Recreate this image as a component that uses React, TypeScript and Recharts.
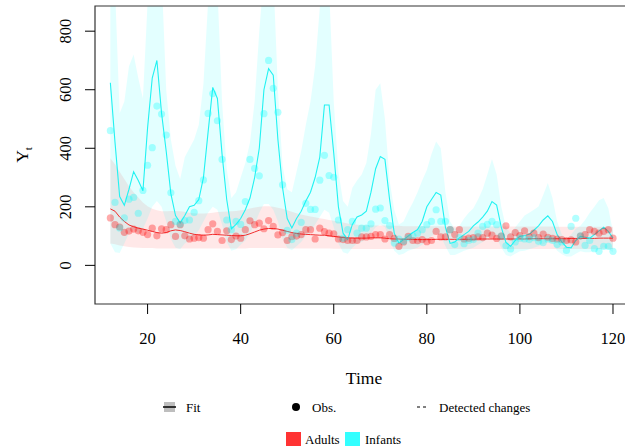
import { ComposedChart, Area, Line, Scatter, XAxis, YAxis, ReferenceArea } from 'recharts';

// months 12..120
const time = Array.from({ length: 109 }, (_, i) => 12 + i);

const infantFit = [
  624, 420, 235, 205, 260, 320, 290, 255, 470, 640, 700, 520,
  390, 245, 170, 145, 170, 200, 205, 225, 300, 455, 608, 570,
  380, 225, 125, 140, 160, 190, 230, 300, 400, 600, 672, 650,
  430, 265, 160, 128, 160, 185, 220, 250, 300, 370, 548, 548,
  383, 200, 110, 88, 140, 165, 172, 185, 250, 330, 372, 362,
  225, 110, 76, 88, 100, 112, 122, 150, 200, 225, 249, 240,
  130, 75, 80, 94, 105, 116, 135, 148, 165, 185, 218, 206,
  130, 78, 65, 85, 99, 102, 106, 120, 135, 155, 169, 150,
  105, 80, 62, 60, 85, 99, 96, 93, 105, 118, 130, 116,
  93,
];
const infantHi = [
  1000, 950, 520, 560, 680, 720, 640, 570, 900, 1100, 1150, 1000,
  600, 430, 340, 295, 370, 400, 430, 480, 620, 900, 1050, 950,
  560, 330, 230, 250, 300, 350, 420, 560, 800, 1000, 1100, 1000,
  600, 340, 260, 250, 320, 390, 480, 560, 680, 880, 1000, 950,
  560, 320, 220, 200, 265, 290, 310, 350, 450, 600, 622, 500,
  290, 190, 140, 150, 185, 215, 250, 290, 326, 380, 423, 400,
  250, 150, 125, 135, 160, 180, 195, 225, 260, 310, 363, 310,
  200, 130, 110, 130, 150, 170, 180, 190, 201, 240, 281, 230,
  150, 105, 90, 105, 125, 135, 155, 180, 200, 222, 230, 195,
  115,
];
const infantLo = [
  75, 45, 42, 75, 110, 125, 110, 125, 160, 200, 220, 200,
  150, 90, 60, 55, 75, 85, 100, 120, 150, 180, 200, 190,
  140, 80, 50, 55, 70, 85, 110, 140, 180, 210, 210, 190,
  150, 90, 60, 52, 65, 80, 100, 115, 140, 165, 190, 180,
  130, 75, 45, 40, 60, 75, 80, 90, 110, 130, 140, 130,
  90, 50, 35, 40, 50, 55, 60, 70, 85, 100, 110, 100,
  65, 35, 35, 42, 50, 55, 60, 70, 80, 90, 100, 95,
  60, 35, 30, 40, 48, 50, 55, 60, 65, 72, 80, 75,
  50, 38, 30, 30, 40, 48, 45, 45, 50, 55, 62, 55,
  45,
];
const infantObs = [
  460, 215, 128, 162, 226, 232, 178, 256, 342, 402, 544, 517,
  445, 248, 150, 141, 153, 155, 181, 221, 292, 519, 587, 494,
  362, 155, 122, 150, 140, 218, 362, 331, 306, 518, 700, 605,
  523, 275, 120, 88, 110, 147, 212, 191, 191, 291, 376, 307,
  301, 155, 93, 122, 150, 110, 127, 127, 142, 192, 196, 153,
  136, 76, 90, 82, 95, 101, 110, 122, 139, 150, 190, 150,
  150, 122, 71, 95, 74, 85, 88, 110, 133, 140, 150, 139,
  100, 67, 56, 80, 93, 90, 88, 95, 82, 78, 90, 85,
  71, 80, 51, 133, 161, 101, 68, 85, 57, 48, 65, 65,
  48,
];

const adultFit = [
  193, 185, 165, 150, 138, 132, 127, 124, 120, 116, 112, 110,
  112, 118, 121, 119, 115, 110, 106, 104, 103, 104, 106, 105,
  104, 103, 102, 101, 101, 103, 108, 114, 120, 124, 126, 126,
  124, 120, 116, 112, 109, 107, 106, 105, 104, 103, 103, 101,
  99, 97, 95, 94, 93, 93, 93, 93, 94, 94, 94, 93,
  91, 90, 90, 89, 89, 89, 88, 88, 88, 88, 89, 89,
  89, 89, 89, 89, 89, 89, 89, 90, 90, 90, 90, 90,
  90, 90, 90, 90, 90, 90, 91, 91, 91, 91, 91, 91,
  91, 91, 91, 92, 92, 92, 92, 92, 92, 93, 93, 93,
  93,
];
const adultHi = [
  366, 345, 320, 295, 270, 250, 232, 215, 202, 193, 188, 185,
  185, 186, 186, 185, 183, 180, 178, 177, 177, 178, 180, 182,
  183, 184, 185, 186, 188, 190, 194, 198, 200, 202, 202, 200,
  197, 193, 188, 183, 178, 174, 170, 167, 164, 161, 158, 155,
  152, 149, 146, 143, 141, 139, 138, 137, 137, 136, 136, 136,
  135, 135, 135, 134, 134, 134, 134, 134, 134, 134, 134, 134,
  133, 133, 133, 133, 133, 133, 133, 133, 133, 133, 133, 133,
  133, 133, 133, 133, 133, 133, 133, 133, 133, 133, 133, 133,
  132, 132, 132, 132, 132, 132, 132, 132, 132, 132, 132, 132,
  132,
];
const adultLo = [
  75, 72, 68, 65, 63, 61, 60, 59, 59, 59, 58, 58,
  58, 58, 58, 58, 58, 58, 58, 58, 58, 58, 58, 58,
  58, 58, 58, 58, 58, 58, 59, 59, 59, 59, 59, 59,
  59, 59, 58, 58, 58, 58, 58, 58, 58, 58, 58, 58,
  57, 57, 57, 57, 56, 56, 56, 56, 56, 56, 56, 56,
  56, 56, 56, 56, 56, 56, 56, 56, 56, 56, 56, 56,
  56, 56, 56, 56, 56, 56, 56, 56, 56, 56, 56, 56,
  56, 56, 56, 56, 56, 56, 56, 56, 56, 56, 56, 56,
  56, 56, 56, 56, 56, 56, 56, 56, 56, 56, 56, 56,
  56,
];
const adultObs = [
  162, 139, 131, 113, 117, 124, 118, 113, 105, 127, 101, 125,
  122, 139, 99, 139, 101, 90, 93, 95, 93, 122, 142, 116,
  85, 118, 88, 100, 93, 122, 152, 139, 144, 125, 153, 133,
  104, 112, 85, 98, 100, 105, 122, 122, 90, 127, 115, 110,
  108, 90, 88, 85, 85, 85, 97, 97, 99, 105, 105, 90,
  105, 92, 65, 80, 99, 85, 84, 88, 81, 85, 116, 97,
  97, 122, 105, 122, 90, 93, 95, 97, 95, 110, 103, 92,
  100, 135, 97, 112, 102, 118, 98, 110, 95, 107, 96, 92,
  90, 88, 85, 87, 80, 100, 105, 122, 116, 110, 116, 122,
  93,
];

const xTicks = [20, 40, 60, 80, 100, 120];
const yTicks = [0, 200, 400, 600, 800];

const data = time.map((t, i) => ({
  t,
  infFit: infantFit[i],
  infBand: [infantLo[i], infantHi[i]],
  infObs: infantObs[i],
  adFit: adultFit[i],
  adBand: [adultLo[i], adultHi[i]],
  adObs: adultObs[i],
}));

const FONT = '"Liberation Serif", "Times New Roman", serif';

function YTick({ y, payload }: any) {
  return (
    <text x={71} y={y} transform={`rotate(-90, 71, ${y})`} textAnchor="middle" fontSize={16.5} style={{ fontFamily: FONT }} fill="#000">
      {payload.value}
    </text>
  );
}

const dot = (color: string, op: number) => (p: any) => (
  <circle cx={p.cx} cy={p.cy} r={3.6} fill={color} fillOpacity={op} stroke="none" />
);

export default function App() {
  return (
    <div style={{ position: 'absolute', left: 0, top: 0, width: 625, height: 448, overflow: 'hidden', background: '#fff' }}>
      <ComposedChart width={640} height={448} data={data} margin={{ top: 6, right: 7, left: 0, bottom: 0 }}>
        <XAxis
          type="number"
          dataKey="t"
          domain={[8.7, 124.3]}
          ticks={xTicks}
          axisLine={false}
          tickSize={10}
          tickMargin={18}
          tickLine={{ stroke: '#000' }}
          tick={{ fontSize: 16.5, fill: '#000', style: { fontFamily: FONT } }}
          height={144}
        />
        <YAxis
          type="number"
          domain={[-132, 886]}
          ticks={yTicks}
          allowDataOverflow
          axisLine={false}
          tickSize={10}
          tickLine={{ stroke: '#000' }}
          tick={<YTick />}
          width={95}
        />
        <Area dataKey="adBand" type="linear" stroke="none" fill="#FF0000" fillOpacity={0.09} isAnimationActive={false} />
        <Area dataKey="infBand" type="linear" stroke="none" fill="#00FFFF" fillOpacity={0.11} isAnimationActive={false} />
        <Scatter dataKey="adObs" shape={dot('#FF0000', 0.33)} isAnimationActive={false} />
        <Scatter dataKey="infObs" shape={dot('#00FFFF', 0.3)} isAnimationActive={false} />
        <Line dataKey="adFit" type="linear" stroke="#F03030" strokeWidth={1} dot={false} isAnimationActive={false} />
        <Line dataKey="infFit" type="linear" stroke="#22F2F2" strokeWidth={1.1} dot={false} isAnimationActive={false} />
        <ReferenceArea x1={8.7} x2={124.3} y1={-132} y2={886} fill="none" stroke="#333" strokeWidth={1.2} ifOverflow="visible" />
      </ComposedChart>

      <svg width={625} height={448} style={{ position: 'absolute', left: 0, top: 0, pointerEvents: 'none', fontFamily: FONT }}>
        <text x={364} y={384} textAnchor="middle" fontSize={17.5} fill="#000">Time</text>
        <text x={28} y={155} transform="rotate(-90, 28, 155)" textAnchor="middle" fontSize={17.5} fill="#000">
          Y<tspan fontSize={11} dy={4}>t</tspan>
        </text>

        <rect x={164} y={402} width={11} height={10} fill="#BEBEBE" />
        <line x1={163} x2={176} y1={407} y2={407} stroke="#000" strokeWidth={1.5} />
        <text x={186} y={411.5} fontSize={13} fill="#000">Fit</text>

        <circle cx={296} cy={407} r={4} fill="#000" />
        <text x={312} y={411.5} fontSize={13} fill="#000">Obs.</text>

        <line x1={417} x2={426} y1={407} y2={407} stroke="#000" strokeWidth={1} strokeDasharray="3 3" />
        <text x={439} y={411.5} fontSize={13} fill="#000">Detected changes</text>

        <rect x={286} y={432} width={15} height={14} fill="#FF3333" />
        <text x={305} y={443.5} fontSize={13} fill="#000">Adults</text>
        <rect x={345} y={432} width={15} height={14} fill="#33FFFF" />
        <text x={365} y={443.5} fontSize={13} fill="#000">Infants</text>
      </svg>
    </div>
  );
}
